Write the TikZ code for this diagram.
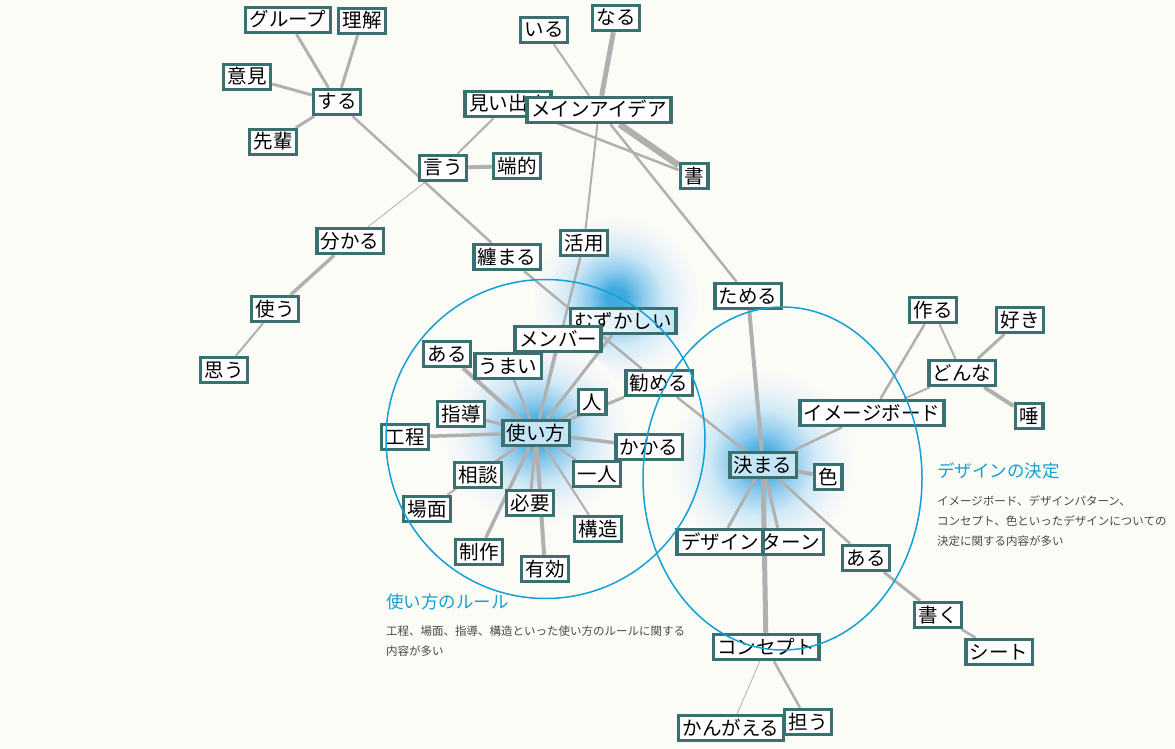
\documentclass[tikz,border=0pt]{standalone}
\usepackage{fontspec}
\setmainfont{Noto Sans CJK JP}

\definecolor{paper}{RGB}{252,252,247}
\definecolor{wordborder}{RGB}{58,112,112}
\definecolor{linkgray}{RGB}{176,176,176}
\definecolor{ruleblue}{RGB}{18,160,215}
\definecolor{bodygray}{RGB}{72,72,72}
\definecolor{glowA}{RGB}{64,170,222}
\definecolor{glowB}{RGB}{140,202,237}
\definecolor{glowC}{RGB}{208,233,246}
\definecolor{glowD}{RGB}{240,245,248}
\definecolor{hubfill}{RGB}{196,229,246}

% soft blue halo around the hub words (TikZ maps 25bp to the path radius)
\pgfdeclareradialshading{hubglow}{\pgfpoint{0bp}{0bp}}{%
  color(0bp)=(glowA); color(3bp)=(glowA); color(8bp)=(glowB);
  color(14bp)=(glowC); color(20bp)=(glowD); color(25bp)=(paper);
  color(50bp)=(paper)}

\pgfdeclarelayer{glowlayer}
\pgfdeclarelayer{edgelayer}
\pgfdeclarelayer{frontlayer}
\pgfsetlayers{glowlayer,edgelayer,main,frontlayer}

\tikzset{
  word/.style={draw=wordborder, line width=3.5pt, fill=white,
    inner xsep=4pt, inner ysep=3pt, text height=16.5pt, text depth=2.5pt,
    font=\fontsize{19.5}{19.5}\selectfont},
  hub/.style={word, fill=hubfill},
  link/.style={draw=linkgray, line width=#1},
  link/.default=2.5pt,
  ring/.style={draw=ruleblue, line width=1.5pt},
  ruletitle/.style={text=ruleblue, inner sep=0pt, anchor=west,
    font=\fontsize{17.5}{17.5}\selectfont, text height=0.84em, text depth=0.12em},
  rulebody/.style={text=bodygray, inner sep=0pt, anchor=west,
    font=\fontsize{11.5}{11.5}\selectfont, text height=0.84em, text depth=0.12em},
}

\begin{document}
\begin{tikzpicture}[x=1pt,y=-1pt]
\useasboundingbox (0,0) rectangle (1175,749);

\begin{pgfonlayer}{glowlayer}
  \fill[paper] (0,0) rectangle (1175,749);
  \shade[shading=hubglow] (616,298) circle [radius=85pt];
  \shade[shading=hubglow] (536,432) circle [radius=95pt];
  \shade[shading=hubglow] (762,462) circle [radius=95pt];
\end{pgfonlayer}

% ---- words ----
\node[word] (group) at (288,20) {グループ};
\node[word] (rikai) at (362,21) {理解};
\node[word] (iken) at (247,77) {意見};
\node[word] (suru) at (337,102) {する};
\node[word] (senpai) at (273,142) {先輩};
\node[word] (iu) at (443,168) {言う};
\node[word] (iru) at (544,30) {いる};
\node[word] (naru) at (616,18) {なる};
\node[word] (miidasu) at (508,104) {見い出す};
\node[word] (mainidea) at (599,110) {メインアイデア};
\node[word] (kaku) at (694,176) {書};
\node[word] (tanteki) at (517,166) {端的};
\node[word] (wakaru) at (350,241) {分かる};
\node[word] (tsukau) at (275,309) {使う};
\node[word] (omou) at (224,370) {思う};
\node[word] (katsuyou) at (584,243) {活用};
\node[word] (matomaru) at (507,257) {纏まる};
\node[word, left color=white, right color=hubfill] (muzukashii) at (623,321) {むずかしい};
\node[word] (member) at (558,339) {メンバー};
\node[word] (aruL) at (447,354) {ある};
\node[word] (umai) at (508,366) {うまい};
\node[word] (susumeru) at (659,383) {勧める};
\node[word] (hito) at (592,402) {人};
\node[word] (shidou) at (461,414) {指導};
\node[word] (koutei) at (405,437) {工程};
\node[hub] (tsukaikata) at (536,433) {使い方};
\node[word] (kakaru) at (649,447) {かかる};
\node[word] (soudan) at (478,475) {相談};
\node[word] (hitori) at (597,474) {一人};
\node[word] (bamen) at (427,509) {場面};
\node[word] (hitsuyou) at (530,503) {必要};
\node[word] (kouzou) at (598,529) {構造};
\node[word] (seisaku) at (479,552) {制作};
\node[word] (yuukou) at (545,569) {有効};
\node[word] (tameru) at (748,296) {ためる};
\node[word] (tsukuru) at (933,310) {作る};
\node[word] (suki) at (1020,320) {好き};
\node[word] (donna) at (962,373) {どんな};
\node[word] (tsuba) at (1029,416) {唾};
\node[word] (imageboard) at (872,413) {イメージボード};
\node[hub] (kimaru) at (763,465) {決まる};
\node[word] (iro) at (828,477) {色};
\node[word] (pattern) at (781,542) {パターン};
\node[word] (design) at (720,542) {デザイン};
\node[word] (aruR) at (866,558) {ある};
\node[word] (kaku2) at (938,615) {書く};
\node[word] (sheet) at (999,652) {シート};
\node[word] (concept) at (766,647) {コンセプト};
\node[word] (ninau) at (808,722) {担う};
\node[word] (kangaeru) at (731,728) {かんがえる};

% ---- links ----
\begin{pgfonlayer}{edgelayer}
  \draw[link=3pt] (group) -- (suru);
  \draw[link=3pt] (rikai) -- (suru);
  \draw[link=3pt] (iken) -- (suru);
  \draw[link=3pt] (senpai) -- (suru);
  \draw[link=2.5pt] (suru) -- (matomaru);
  \draw[link=2pt] (iu) -- (miidasu);
  \draw[link=4pt] (iu) -- (tanteki);
  \draw[link=0.8pt] (iu) -- (wakaru);
  \draw[link=3.5pt] (wakaru) -- (tsukau);
  \draw[link=2pt] (tsukau) -- (omou);
  \draw[link=2pt] (iru) -- (mainidea);
  \draw[link=5pt] (naru) -- (mainidea);
  \draw[link=6.5pt] (mainidea) -- (kaku);
  \draw[link=2.5pt] (miidasu) -- (kaku);
  \draw[link=2pt] (mainidea) -- (katsuyou);
  \draw[link=2.5pt] (mainidea) -- (tameru);
  \draw[link=2.5pt] (katsuyou) -- (tsukaikata);
  \draw[link=2.5pt] (matomaru) -- (susumeru);
  \draw[link=4pt] (tsukaikata) -- (aruL);
  \draw[link=2.5pt] (tsukaikata) -- (umai);
  \draw[link=2.5pt] (tsukaikata) -- (member);
  \draw[link=3pt] (tsukaikata) -- (muzukashii);
  \draw[link=2.5pt] (tsukaikata) -- (hito);
  \draw[link=3pt] (tsukaikata) -- (susumeru);
  \draw[link=3.5pt] (tsukaikata) -- (kakaru);
  \draw[link=2pt] (tsukaikata) -- (hitori);
  \draw[link=2pt] (tsukaikata) -- (kouzou);
  \draw[link=4pt] (tsukaikata) -- (yuukou);
  \draw[link=3pt] (tsukaikata) -- (hitsuyou);
  \draw[link=3.5pt] (tsukaikata) -- (seisaku);
  \draw[link=2.5pt] (tsukaikata) -- (soudan);
  \draw[link=2pt] (tsukaikata) -- (bamen);
  \draw[link=3.5pt] (tsukaikata) -- (koutei);
  \draw[link=3pt] (tsukaikata) -- (shidou);
  \draw[link=2.5pt] (susumeru) -- (kimaru);
  \draw[link=4pt] (tameru) -- (kimaru);
  \draw[link=2.5pt] (kimaru) -- (imageboard);
  \draw[link=4pt] (kimaru) -- (iro);
  \draw[link=2.5pt] (kimaru) -- (aruR);
  \draw[link=3pt] (kimaru) -- (design);
  \draw[link=3pt] (kimaru) -- (pattern);
  \draw[link=5pt] (kimaru) -- (concept);
  \draw[link=2.5pt] (imageboard) -- (tsukuru);
  \draw[link=2pt] (imageboard) -- (donna);
  \draw[link=2pt] (donna) -- (tsukuru);
  \draw[link=3pt] (donna) -- (suki);
  \draw[link=4pt] (donna) -- (tsuba);
  \draw[link=3pt] (aruR) -- (kaku2);
  \draw[link=2.5pt] (kaku2) -- (sheet);
  \draw[link=0.8pt] (concept) -- (kangaeru);
  \draw[link=2.5pt] (concept) -- (ninau);
\end{pgfonlayer}

% ---- topic groups ----
\begin{pgfonlayer}{frontlayer}
  \draw[ring] (545.5,439) circle [radius=159.5pt];
  \draw[ring] (782.5,478.5) circle [x radius=139.5pt, y radius=171.5pt];
\end{pgfonlayer}

\node[ruletitle] (useTitle) at (386,605) {使い方のルール};
\node[rulebody] (useLineA) at (386,632) {工程、場面、指導、構造といった使い方のルールに関する};
\node[rulebody] (useLineB) at (386,652) {内容が多い};

\node[ruletitle] (designTitle) at (937,474) {デザインの決定};
\node[rulebody] (designLineA) at (937,502) {イメージボード、デザインパターン、};
\node[rulebody] (designLineB) at (937,522) {コンセプト、色といったデザインについての};
\node[rulebody] (designLineC) at (937,542) {決定に関する内容が多い};
\end{tikzpicture}
\end{document}
